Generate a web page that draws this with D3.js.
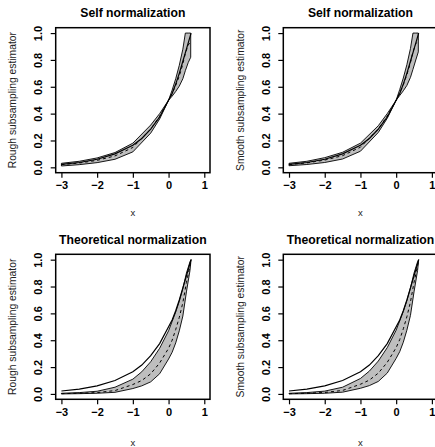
<!DOCTYPE html>
<html>
<head>
<meta charset="utf-8">
<script src="https://cdn.jsdelivr.net/npm/d3@7"></script>
<style>
  html, body { margin: 0; padding: 0; background: #fff; }
  svg { display: block; }
  text { font-family: "Liberation Sans", Arial, Helvetica, sans-serif; }
</style>
</head>
<body>
<script>
// ---- data ----
const xTicks = [-3, -2, -1, 0, 1];
const yTicks = [0, 0.2, 0.4, 0.6, 0.8, 1.0];

// true curve
const truthX = [-3, -2.5, -2, -1.5, -1, -0.75, -0.5, -0.25, 0, 0.1, 0.2, 0.3, 0.4, 0.5, 0.63];
const truthY = [0.022, 0.036, 0.06, 0.1, 0.165, 0.215, 0.285, 0.375, 0.5, 0.55, 0.62, 0.7, 0.79, 0.88, 1.0];

// self-normalized bands
const selfX = [-3, -2.5, -2, -1.5, -1, -0.5, -0.25, 0, 0.1, 0.2, 0.3, 0.4, 0.47, 0.55, 0.62];
const selfRoughUpper = [0.03, 0.045, 0.07, 0.11, 0.18, 0.315, 0.4, 0.5, 0.575, 0.66, 0.76, 0.88, 1.0, 1.0, 1.0];
const selfRoughLower = [0.01, 0.02, 0.035, 0.06, 0.115, 0.255, 0.36, 0.5, 0.53, 0.565, 0.605, 0.66, 0.72, 0.78, 0.82];
const selfRoughMean  = [0.02, 0.032, 0.052, 0.085, 0.148, 0.285, 0.38, 0.5, 0.55, 0.61, 0.68, 0.77, 0.85, 0.91, 0.94];
const selfSmoothUpper = [0.03, 0.045, 0.072, 0.112, 0.18, 0.31, 0.4, 0.5, 0.58, 0.665, 0.765, 0.885, 1.0, 1.0, 1.0];
const selfSmoothLower = [0.012, 0.021, 0.036, 0.062, 0.12, 0.26, 0.365, 0.5, 0.535, 0.57, 0.61, 0.67, 0.73, 0.8, 0.86];
const selfSmoothMean  = [0.021, 0.033, 0.054, 0.087, 0.15, 0.285, 0.382, 0.5, 0.555, 0.615, 0.69, 0.78, 0.86, 0.92, 0.95];

// theoretically normalized bands
const theoX = [-3, -2.5, -2, -1.5, -1, -0.75, -0.5, -0.25, 0, 0.1, 0.2, 0.3, 0.4, 0.5, 0.6, 0.63];
const theoRoughUpper = [0.005, 0.01, 0.02, 0.05, 0.11, 0.165, 0.24, 0.34, 0.47, 0.54, 0.61, 0.69, 0.785, 0.9, 0.985, 1.0];
const theoRoughLower = [0.0, 0.002, 0.005, 0.012, 0.04, 0.06, 0.09, 0.15, 0.26, 0.31, 0.38, 0.47, 0.58, 0.76, 0.92, 1.0];
const theoRoughMean  = [0.002, 0.005, 0.01, 0.025, 0.07, 0.1, 0.15, 0.23, 0.34, 0.4, 0.48, 0.57, 0.68, 0.83, 0.955, 1.0];
const theoSmoothUpper = [0.005, 0.01, 0.021, 0.05, 0.115, 0.17, 0.245, 0.345, 0.475, 0.545, 0.615, 0.695, 0.79, 0.9, 0.985, 1.0];
const theoSmoothLower = [0.0, 0.002, 0.005, 0.013, 0.042, 0.062, 0.093, 0.155, 0.265, 0.315, 0.385, 0.475, 0.585, 0.76, 0.92, 1.0];
const theoSmoothMean  = [0.002, 0.005, 0.011, 0.026, 0.072, 0.103, 0.155, 0.235, 0.345, 0.405, 0.485, 0.575, 0.685, 0.83, 0.955, 1.0];

const panels = [
  { title: "Self normalization", ylab: "Rough subsampling estimator", left: 55.7, top: 27.7, xlabY: 216,
    bandX: selfX, upper: selfRoughUpper, lower: selfRoughLower, mean: selfRoughMean },
  { title: "Self normalization", ylab: "Smooth subsampling estimator", left: 283.3, top: 27.7, xlabY: 216,
    bandX: selfX, upper: selfSmoothUpper, lower: selfSmoothLower, mean: selfSmoothMean },
  { title: "Theoretical normalization", ylab: "Rough subsampling estimator", left: 55.7, top: 254.3, xlabY: 446,
    bandX: theoX, upper: theoRoughUpper, lower: theoRoughLower, mean: theoRoughMean },
  { title: "Theoretical normalization", ylab: "Smooth subsampling estimator", left: 283.3, top: 254.3, xlabY: 446,
    bandX: theoX, upper: theoSmoothUpper, lower: theoSmoothLower, mean: theoSmoothMean }
];

// ---- drawing ----
const W = 435, H = 447;
const pw = 154.3, ph = 145;

const svg = d3.select("body").append("svg")
  .attr("width", W).attr("height", H);
svg.append("rect").attr("width", W).attr("height", H).attr("fill", "#fff");

panels.forEach(p => {
  const x = d3.scaleLinear().domain([-3.16, 1.16]).range([p.left, p.left + pw]);
  const y = d3.scaleLinear().domain([-0.04, 1.04]).range([p.top + ph, p.top]);
  const g = svg.append("g");

  // confidence band
  const bandData = p.bandX.map((v, i) => ({ x: v, lo: p.lower[i], hi: p.upper[i] }));
  g.append("path")
    .datum(bandData)
    .attr("d", d3.area().x(d => x(d.x)).y0(d => y(d.lo)).y1(d => y(d.hi)))
    .attr("fill", "#bebebe")
    .attr("stroke", "#000")
    .attr("stroke-width", 0.9)
    .attr("stroke-linejoin", "round");

  // true curve
  g.append("path")
    .datum(truthX.map((v, i) => [v, truthY[i]]))
    .attr("d", d3.line().x(d => x(d[0])).y(d => y(d[1])))
    .attr("fill", "none").attr("stroke", "#000").attr("stroke-width", 1.2);

  // mean of the estimator
  g.append("path")
    .datum(p.bandX.map((v, i) => [v, p.mean[i]]))
    .attr("d", d3.line().x(d => x(d[0])).y(d => y(d[1])))
    .attr("fill", "none").attr("stroke", "#000").attr("stroke-width", 1)
    .attr("stroke-dasharray", "3,3");

  // frame
  g.append("rect")
    .attr("x", p.left).attr("y", p.top).attr("width", pw).attr("height", ph)
    .attr("fill", "none").attr("stroke", "#000").attr("stroke-width", 1.5);

  // x axis ticks
  const xa = d3.axisBottom(x).tickValues(xTicks).tickSize(5).tickPadding(4)
    .tickFormat(d => d < 0 ? "\u2212" + Math.abs(d) : String(d));
  const gx = g.append("g").attr("transform", `translate(0,${p.top + ph})`).call(xa);
  gx.select(".domain").remove();
  gx.selectAll(".tick line").attr("stroke", "#000").attr("stroke-width", 1.2);
  gx.selectAll(".tick text")
    .attr("font-size", "11px").attr("font-weight", "bold").attr("fill", "#000")
    .attr("font-family", "Liberation Sans, Arial, sans-serif");

  // y axis ticks, labels rotated as in base graphics
  const ya = d3.axisLeft(y).tickValues(yTicks).tickSize(5).tickFormat(d3.format(".1f"));
  const gy = g.append("g").attr("transform", `translate(${p.left},0)`).call(ya);
  gy.select(".domain").remove();
  gy.selectAll(".tick line").attr("stroke", "#000").attr("stroke-width", 1.2);
  gy.selectAll(".tick text")
    .attr("x", null).attr("dy", null)
    .attr("transform", "translate(-13.5,0) rotate(-90)")
    .attr("text-anchor", "middle")
    .attr("font-size", "11px").attr("font-weight", "bold").attr("fill", "#000")
    .attr("font-family", "Liberation Sans, Arial, sans-serif");

  // title
  g.append("text")
    .attr("x", p.left + pw / 2).attr("y", p.top - 10.5)
    .attr("text-anchor", "middle")
    .attr("font-size", "12.2px").attr("font-weight", "bold")
    .text(p.title);

  // axis titles
  g.append("text")
    .attr("x", p.left + pw / 2).attr("y", p.xlabY)
    .attr("text-anchor", "middle")
    .attr("font-size", "9.5px").attr("fill", "#222")
    .text("x");

  g.append("text")
    .attr("transform", `translate(${p.left - 39.5},${p.top + ph / 2}) rotate(-90)`)
    .attr("text-anchor", "middle")
    .attr("font-size", "10.3px").attr("fill", "#222")
    .text(p.ylab);
});
</script>
</body>
</html>
